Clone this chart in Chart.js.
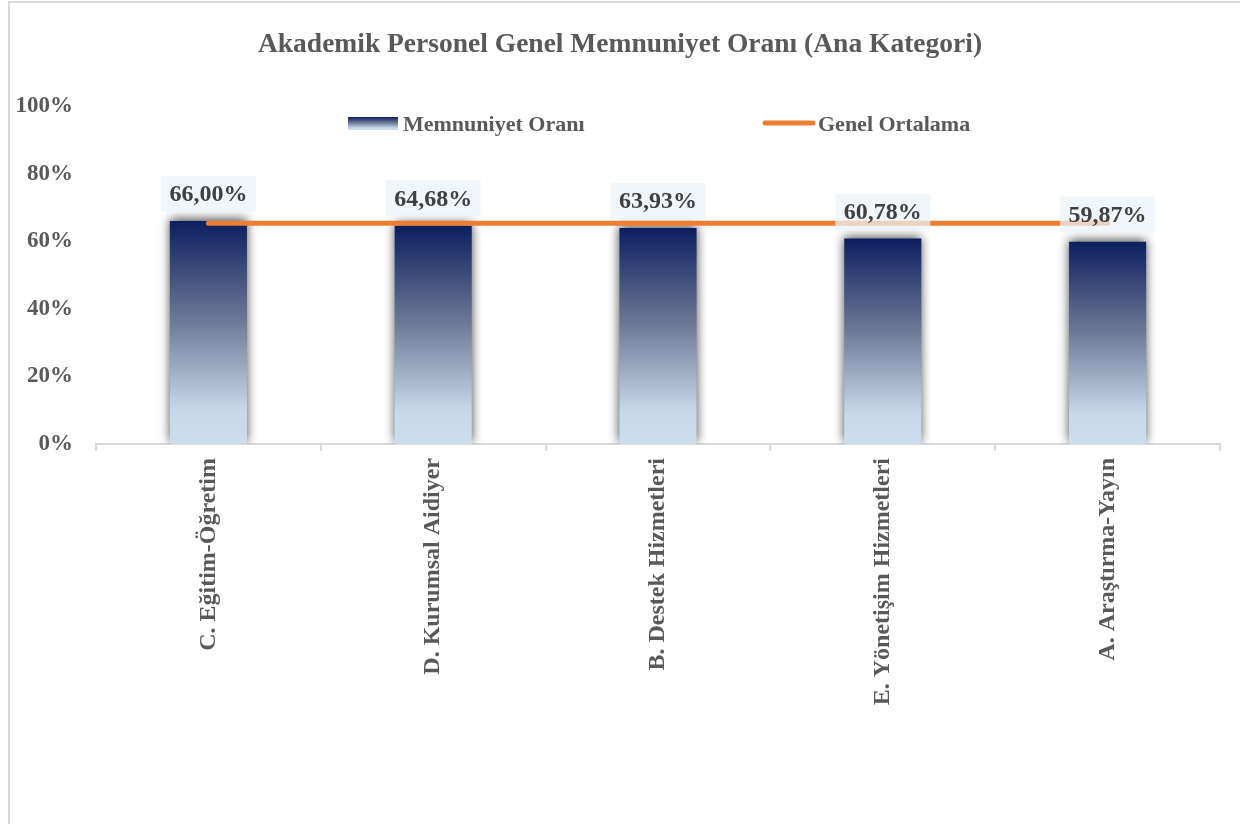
<!DOCTYPE html>
<html>
<head>
<meta charset="utf-8">
<script src="https://cdn.jsdelivr.net/npm/chart.js@4.4.1/dist/chart.umd.min.js"></script>
<style>
  html, body { margin: 0; padding: 0; background: #fff; }
  #wrap { position: relative; width: 1240px; height: 824px; overflow: hidden; }
  #frame { position: absolute; left: 8px; top: 1px; width: 1300px; height: 900px;
           border-top: 2px solid #d9d9d9; border-left: 2px solid #d9d9d9; pointer-events: none; }
  canvas { position: absolute; left: 0; top: 0; }
</style>
</head>
<body>
<div id="wrap">
  <canvas id="c" width="1240" height="824"></canvas>
  <div id="frame"></div>
</div>
<script>
// ---- data ----
const categories = ["C. Eğitim-Öğretim", "D. Kurumsal Aidiyer", "B. Destek Hizmetleri", "E. Yönetişim Hizmetleri", "A. Araştırma-Yayın"];
const satisfaction = [66.00, 64.68, 63.93, 60.78, 59.87];
const overallAverage = [65.3, 65.3, 65.3, 65.3, 65.3];
const yTicks = [0, 20, 40, 60, 80, 100];
const seriesNames = ["Memnuniyet Oranı", "Genel Ortalama"];
const chartTitle = "Akademik Personel Genel Memnuniyet Oranı (Ana Kategori)";

const FONT = "'Liberation Serif', 'Times New Roman', serif";
const ORANGE = "#ED7D31";

function barGradient(c2d, top, bottom) {
  const g = c2d.createLinearGradient(0, top, 0, bottom);
  g.addColorStop(0, "#0b1f5f");
  g.addColorStop(0.45, "#6d7a96");
  g.addColorStop(0.85, "#c6d9ec");
  g.addColorStop(1, "#cadeef");
  return g;
}

const shadowPlugin = {
  id: "barShadow",
  beforeDatasetDraw(chart, args) {
    if (args.meta.type === "bar") {
      const ctx = chart.ctx;
      ctx.save();
      ctx.shadowColor = "rgba(0,0,0,0.7)";
      ctx.shadowBlur = 10;
      ctx.shadowOffsetX = 0;
      ctx.shadowOffsetY = -2;
    }
  },
  afterDatasetDraw(chart, args) {
    if (args.meta.type === "bar") chart.ctx.restore();
  }
};

const labelPlugin = {
  id: "valueLabels",
  afterDatasetsDraw(chart) {
    const ctx = chart.ctx;
    const meta = chart.getDatasetMeta(0);
    ctx.save();
    ctx.font = "bold 24px " + FONT;
    ctx.textAlign = "center";
    ctx.textBaseline = "middle";
    meta.data.forEach((bar, i) => {
      const txt = satisfaction[i].toFixed(2).replace(".", ",") + "%";
      const w = ctx.measureText(txt).width + 17;
      const h = 36;
      const bottom = bar.y - 9;
      ctx.fillStyle = "rgba(236,242,250,0.72)";
      ctx.fillRect(bar.x - w / 2, bottom - h, w, h);
      ctx.fillStyle = "#404040";
      ctx.fillText(txt, bar.x, bottom - h / 2 + 1);
    });
    ctx.restore();
  }
};

const legendPlugin = {
  id: "customLegend",
  afterDraw(chart) {
    const ctx = chart.ctx;
    ctx.save();
    ctx.fillStyle = barGradient(ctx, 117, 130);
    ctx.fillRect(348, 117, 50, 13);
    ctx.font = "bold 22px " + FONT;
    ctx.fillStyle = "#595959";
    ctx.textAlign = "left";
    ctx.textBaseline = "middle";
    ctx.fillText(seriesNames[0], 403, 125);
    ctx.strokeStyle = ORANGE;
    ctx.lineWidth = 5;
    ctx.lineCap = "round";
    ctx.beginPath();
    ctx.moveTo(765, 123);
    ctx.lineTo(813, 123);
    ctx.stroke();
    ctx.fillText(seriesNames[1], 818, 125);
    ctx.restore();
  }
};

new Chart(document.getElementById("c"), {
  type: "bar",
  data: {
    labels: categories,
    datasets: [
      {
        type: "bar",
        label: seriesNames[0],
        data: satisfaction,
        order: 1,
        categoryPercentage: 1.0,
        barPercentage: 0.343,
        borderWidth: 0,
        backgroundColor: (c) => {
          const chart = c.chart;
          const area = chart.chartArea;
          if (!area || c.raw === undefined) return "#6d7a96";
          const top = chart.scales.y.getPixelForValue(c.raw);
          return barGradient(chart.ctx, top, area.bottom);
        }
      },
      {
        type: "line",
        label: seriesNames[1],
        data: overallAverage,
        order: 0,
        borderColor: ORANGE,
        borderWidth: 5,
        borderCapStyle: "round",
        pointRadius: 0,
        fill: false,
        tension: 0
      }
    ]
  },
  options: {
    responsive: false,
    animation: false,
    devicePixelRatio: 1,
    layout: { padding: { left: 0, right: 0, top: 0, bottom: 0 } },
    plugins: {
      legend: { display: false },
      tooltip: { enabled: false },
      title: {
        display: true,
        text: chartTitle,
        color: "#595959",
        font: { family: FONT, size: 27.5, weight: "bold", lineHeight: 1.2 },
        padding: { top: 28.5, bottom: 44.5 }
      }
    },
    scales: {
      x: {
        offset: true,
        grid: { display: true, drawOnChartArea: false, drawTicks: true, tickLength: 7, color: "#d9d9d9", offset: true, lineWidth: 2 },
        border: { display: true, color: "#d9d9d9", width: 2 },
        ticks: {
          color: "#595959",
          font: { family: FONT, size: 24, weight: "bold" },
          maxRotation: 90, minRotation: 90,
          padding: 7,
          autoSkip: false
        },
        afterFit(scale) { scale.height = 380; }
      },
      y: {
        min: 0, max: 100,
        afterBuildTicks(scale) { scale.ticks = yTicks.map(v => ({ value: v })); },
        grid: { display: false, drawTicks: false },
        border: { display: false },
        ticks: {
          color: "#595959",
          font: { family: FONT, size: 23, weight: "bold" },
          padding: 23,
          callback: (v) => v + "%"
        },
        afterFit(scale) { scale.width = 96; }
      },
      yRight: {
        type: "linear",
        position: "right",
        display: true,
        min: 0, max: 100,
        grid: { display: false, drawTicks: false },
        border: { display: false },
        ticks: { display: false },
        afterFit(scale) { scale.width = 20; }
      }
    }
  },
  plugins: [shadowPlugin, labelPlugin, legendPlugin]
});
</script>
</body>
</html>
